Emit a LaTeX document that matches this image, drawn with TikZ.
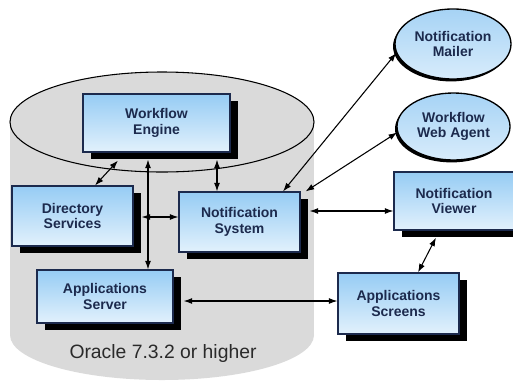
\documentclass[tikz,border=0pt]{standalone}
\usepackage{fontspec}
\setmainfont{Liberation Sans}
\usetikzlibrary{arrows.meta,calc,shadows,shapes.geometric}

\definecolor{navy}{HTML}{1C2A4D}
\definecolor{boxtop}{HTML}{96CCF4}
\definecolor{boxbot}{HTML}{E2F1FC}
\definecolor{ovaltop}{HTML}{A6D3F5}
\definecolor{ovalbot}{HTML}{D8ECFB}
\definecolor{cylgray}{HTML}{DADADA}
\definecolor{captiongray}{HTML}{2A2A2A}

\tikzset{
  labelfont/.style={font=\bfseries\fontsize{10.5}{11.5}\selectfont, text=navy, align=center},
  box/.style={labelfont, draw=navy, line width=0.8pt, inner sep=0pt,
    top color=boxtop, bottom color=boxbot,
    general shadow={fill=black, shadow xshift=6pt, shadow yshift=-5.25pt}},
  oval/.style={labelfont, ellipse, draw=black, line width=1pt, inner sep=0pt,
    top color=ovaltop, bottom color=ovalbot,
    general shadow={fill=black, shadow xshift=-1.5pt, shadow yshift=-1.8pt}},
  link/.style={draw=black, line width=0.8pt,
    arrows={Latex[length=6.5pt,width=4.5pt]-Latex[length=6.5pt,width=4.5pt]}},
}

\begin{document}
\begin{tikzpicture}[x=0.75pt, y=-0.75pt]
  \useasboundingbox (0,0) rectangle (513,383);

  % database cylinder: body, rounded base, outlined top
  \fill[cylgray] (10,122) rectangle (314,335);
  \fill[cylgray] (162,335) ellipse [x radius=152, y radius=45];
  \draw[black, line width=0.8pt, fill=cylgray] (162,122) ellipse [x radius=152, y radius=50];
  \node[font=\fontsize{14.5}{16}\selectfont, text=captiongray] (oracle) at (163,353) {Oracle 7.3.2 or higher};

  % components inside the database
  \node[box, minimum width=110.25pt, minimum height=43.5pt] (we) at (156.5,123) {Workflow\\Engine};
  \node[box, minimum width=90.75pt, minimum height=45pt] (ds) at (72.5,216) {Directory\\Services};
  \node[box, minimum width=90.75pt, minimum height=45pt] (ns) at (239.5,222) {Notification\\System};
  \node[box, minimum width=102pt, minimum height=39.75pt] (as) at (105,296.5) {Applications\\Server};

  % outside components
  \node[box, minimum width=90pt, minimum height=43.5pt] (nv) at (454,201) {Notification\\Viewer};
  \node[box, minimum width=90.75pt, minimum height=45.75pt] (asc) at (398.5,303.5) {Applications\\Screens};
  \node[oval, minimum width=87pt, minimum height=52.5pt] (nm) at (453,44) {Notification\\Mailer};
  \node[oval, minimum width=84.75pt, minimum height=50.25pt] (wwa) at (453.5,126.5) {Workflow\\Web Agent};

  % connectors
  \draw[link] ($(we.south)+(-38.5,8)$) -- ($(ds.north)+(22.5,0)$);
  \draw[link] ($(we.south)+(-8.5,7)$) -- ($(as.north)+(43,0)$);
  \draw[link] ($(ds.east)+(8,1)$) -- ($(ns.west)+(0,-5)$);
  \draw[link] ($(we.south)+(60.5,7)$) -- ($(ns.north)+(-22.5,0)$);
  \draw[link] ($(ns.north)+(43.5,0)$) -- (nm.189);
  \draw[link] ($(ns.north east)+(5,0)$) -- (wwa.186);
  \draw[link] ($(ns.east)+(9,-11)$) -- ($(nv.west)+(0,10)$);
  \draw[link] ($(nv.south)+(-18,7)$) -- ($(asc.north)+(19.5,0)$);
  \draw[link] ($(as.east)+(10,4.5)$) -- ($(asc.west)+(0,-2.5)$);
\end{tikzpicture}
\end{document}
